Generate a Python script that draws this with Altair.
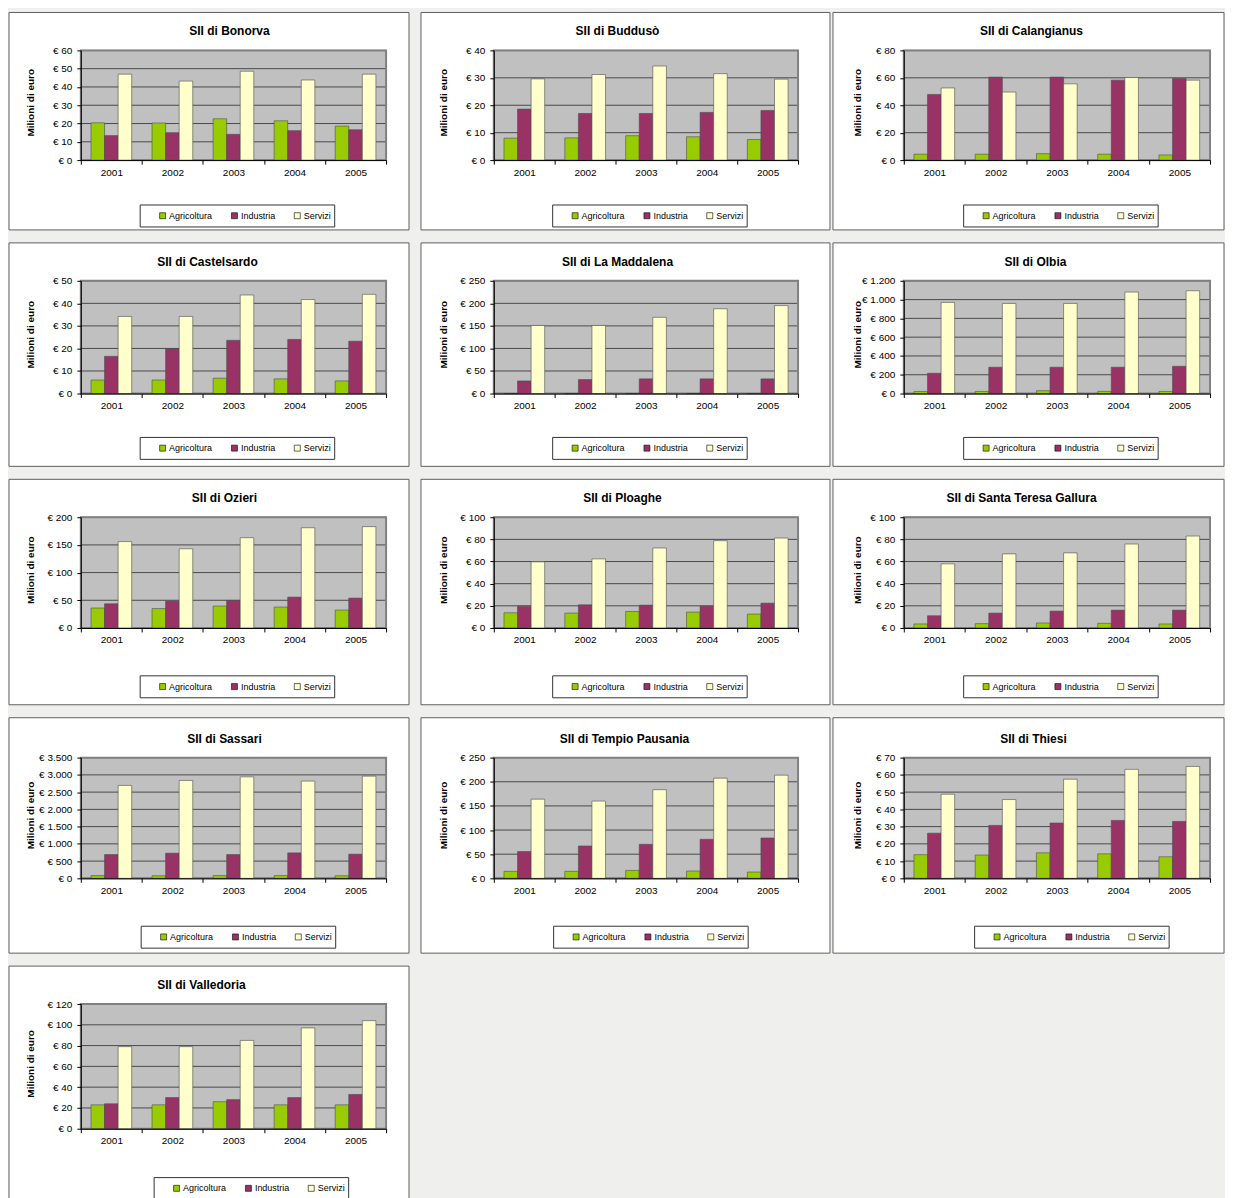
import altair as alt
import pandas as pd

YEARS = ["2001", "2002", "2003", "2004", "2005"]
SECTORS = ["Agricoltura", "Industria", "Servizi"]
SECTOR_COLORS = ["#99cc00", "#993366", "#ffffcc"]
Y_TITLE = "Milioni di euro"
TITLE_PREFIX = "SII di "

# Valori in milioni di euro, 2001-2005
BONORVA_AGRICOLTURA = [20.4, 20.3, 22.6, 21.5, 18.6]
BONORVA_INDUSTRIA = [13.4, 15.0, 14.1, 16.1, 16.6]
BONORVA_SERVIZI = [47.0, 43.2, 48.6, 43.8, 47.0]

BUDDUSO_AGRICOLTURA = [8.0, 8.1, 8.9, 8.5, 7.5]
BUDDUSO_INDUSTRIA = [18.6, 17.0, 17.0, 17.4, 18.1]
BUDDUSO_SERVIZI = [29.6, 31.2, 34.3, 31.5, 29.5]

CALANGIANUS_AGRICOLTURA = [4.3, 4.3, 4.7, 4.3, 3.8]
CALANGIANUS_INDUSTRIA = [47.9, 60.5, 60.5, 58.3, 59.5]
CALANGIANUS_SERVIZI = [52.6, 49.6, 55.6, 60.2, 58.3]

CASTELSARDO_AGRICOLTURA = [6.0, 6.0, 6.8, 6.5, 5.6]
CASTELSARDO_INDUSTRIA = [16.5, 19.8, 23.6, 24.0, 23.2]
CASTELSARDO_SERVIZI = [34.2, 34.2, 43.7, 41.7, 44.0]

LA_MADDALENA_AGRICOLTURA = [0, 0, 0, 0, 0]
LA_MADDALENA_INDUSTRIA = [28, 31, 32.5, 32.5, 32.5]
LA_MADDALENA_SERVIZI = [151, 151, 169, 188, 195]

OLBIA_AGRICOLTURA = [22, 22, 30, 23, 22]
OLBIA_INDUSTRIA = [216, 280, 280, 280, 290]
OLBIA_SERVIZI = [970, 959, 959, 1080, 1094]

OZIERI_AGRICOLTURA = [36, 35, 39.5, 37.7, 32.3]
OZIERI_INDUSTRIA = [43.7, 48.5, 49.7, 55.7, 53.9]
OZIERI_SERVIZI = [156, 143, 163, 181, 183]

PLOAGHE_AGRICOLTURA = [13.7, 13.4, 14.9, 14.3, 12.5]
PLOAGHE_INDUSTRIA = [19.7, 20.9, 20.6, 19.7, 22.4]
PLOAGHE_SERVIZI = [59.7, 62.4, 72.2, 78.8, 81.2]

SANTA_TERESA_AGRICOLTURA = [3.6, 3.9, 4.5, 4.2, 3.6]
SANTA_TERESA_INDUSTRIA = [11.0, 13.4, 15.2, 16.1, 16.1]
SANTA_TERESA_SERVIZI = [57.9, 66.9, 67.8, 75.8, 83.0]

SASSARI_AGRICOLTURA = [80, 75, 80, 80, 75]
SASSARI_INDUSTRIA = [690, 729, 690, 738, 700]
SASSARI_SERVIZI = [2694, 2838, 2943, 2819, 2963]

TEMPIO_AGRICOLTURA = [14.4, 14.4, 16.4, 15.1, 13.0]
TEMPIO_INDUSTRIA = [55.5, 67.0, 70.5, 80.8, 83.6]
TEMPIO_SERVIZI = [164, 160, 183.6, 207.5, 213.7]

THIESI_AGRICOLTURA = [13.7, 13.5, 14.8, 14.2, 12.5]
THIESI_INDUSTRIA = [26.2, 30.7, 32.1, 33.6, 33.0]
THIESI_SERVIZI = [48.8, 45.7, 57.5, 63.2, 64.9]

VALLEDORIA_AGRICOLTURA = [23, 23, 26, 23, 23]
VALLEDORIA_INDUSTRIA = [24, 30, 28, 30, 33]
VALLEDORIA_SERVIZI = [79, 79, 85, 97, 104]

# name -> (agricoltura, industria, servizi, y max, y step)
PANELS = {
    "Bonorva": (BONORVA_AGRICOLTURA, BONORVA_INDUSTRIA, BONORVA_SERVIZI, 60, 10),
    "Buddusò": (BUDDUSO_AGRICOLTURA, BUDDUSO_INDUSTRIA, BUDDUSO_SERVIZI, 40, 10),
    "Calangianus": (CALANGIANUS_AGRICOLTURA, CALANGIANUS_INDUSTRIA, CALANGIANUS_SERVIZI, 80, 20),
    "Castelsardo": (CASTELSARDO_AGRICOLTURA, CASTELSARDO_INDUSTRIA, CASTELSARDO_SERVIZI, 50, 10),
    "La Maddalena": (LA_MADDALENA_AGRICOLTURA, LA_MADDALENA_INDUSTRIA, LA_MADDALENA_SERVIZI, 250, 50),
    "Olbia": (OLBIA_AGRICOLTURA, OLBIA_INDUSTRIA, OLBIA_SERVIZI, 1200, 200),
    "Ozieri": (OZIERI_AGRICOLTURA, OZIERI_INDUSTRIA, OZIERI_SERVIZI, 200, 50),
    "Ploaghe": (PLOAGHE_AGRICOLTURA, PLOAGHE_INDUSTRIA, PLOAGHE_SERVIZI, 100, 20),
    "Santa Teresa Gallura": (SANTA_TERESA_AGRICOLTURA, SANTA_TERESA_INDUSTRIA, SANTA_TERESA_SERVIZI, 100, 20),
    "Sassari": (SASSARI_AGRICOLTURA, SASSARI_INDUSTRIA, SASSARI_SERVIZI, 3500, 500),
    "Tempio Pausania": (TEMPIO_AGRICOLTURA, TEMPIO_INDUSTRIA, TEMPIO_SERVIZI, 250, 50),
    "Thiesi": (THIESI_AGRICOLTURA, THIESI_INDUSTRIA, THIESI_SERVIZI, 70, 10),
    "Valledoria": (VALLEDORIA_AGRICOLTURA, VALLEDORIA_INDUSTRIA, VALLEDORIA_SERVIZI, 120, 20),
}

# ---- layout (pixels) ----
COLS = {  # plot width, box left margin, box right margin, y-title x
    0: dict(W=306, L=72, R=23, YT=-50),
    1: dict(W=305, L=73, R=32, YT=-50),
    2: dict(W=307, L=71, R=14, YT=-46),
}
ROWS = {  # box top margin, plot height, box bottom margin, legend top below plot
    0: dict(T=38, H=110, B=70, LT=45),
    1: dict(T=38, H=113, B=73, LT=44),
    2: dict(T=38, H=111, B=77, LT=48),
    3: dict(T=40, H=121, B=75, LT=48),
    4: dict(T=38, H=125, B=80, LT=49),
}
# name -> (col, row, title centre from box left, legend centre shift)
PLACE = {
    "Bonorva": (0, 0, 221, 4),
    "Buddusò": (1, 0, 197, 4),
    "Calangianus": (2, 0, 199, 4),
    "Castelsardo": (0, 1, 199, 4),
    "La Maddalena": (1, 1, 197, 4),
    "Olbia": (2, 1, 203, 4),
    "Ozieri": (0, 2, 216, 4),
    "Ploaghe": (1, 2, 202, 4),
    "Santa Teresa Gallura": (2, 2, 189, 4),
    "Sassari": (0, 3, 216, 5),
    "Tempio Pausania": (1, 3, 204, 5),
    "Thiesi": (2, 3, 201, 15),
    "Valledoria": (0, 4, 193, 18),
}

FONT = "Liberation Sans"
LEG_W, LEG_H = 195, 22


def y_axis(ticks, YT, H):
    return alt.Axis(values=ticks, grid=False, zindex=1,
                    labelExpr="'€ ' + replace(format(datum.value, ','), ',', '.')",
                    tickSize=4, labelPadding=5, domainColor="black", tickColor="black",
                    labelColor="black", labelFont=FONT, labelFontSize=10,
                    title=Y_TITLE, titleFont=FONT, titleFontSize=10,
                    titleFontWeight="bold", titleColor="black",
                    titleX=YT, titleY=H / 2 - 3, titleAngle=270,
                    titleAlign="center", titleBaseline="middle")


def panel(name):
    agr, ind, serv, ymax, ystep = PANELS[name]
    col, row, title_x, leg_dx = PLACE[name]
    W, L, R, YT = COLS[col]["W"], COLS[col]["L"], COLS[col]["R"], COLS[col]["YT"]
    T, H, B, LT = ROWS[row]["T"], ROWS[row]["H"], ROWS[row]["B"], ROWS[row]["LT"]

    df = pd.DataFrame({
        "anno": YEARS * 3,
        "settore": [s for s in SECTORS for _ in YEARS],
        "valore": list(agr) + list(ind) + list(serv),
    })
    ticks = list(range(0, ymax + 1, ystep))
    yscale = alt.Scale(domain=[0, ymax], nice=False, zero=True)
    one = pd.DataFrame({"k": [0]})

    box = alt.Chart(one).mark_rect(fill="white", stroke="#5f5f5f", strokeWidth=1).encode(
        x=alt.value(-L), x2=alt.value(W + R), y=alt.value(-T), y2=alt.value(H + B))
    plotbg = alt.Chart(one).mark_rect(fill="#c0c0c0").encode(
        x=alt.value(0), x2=alt.value(W), y=alt.value(0), y2=alt.value(H))
    grid = alt.Chart(pd.DataFrame({"valore": ticks})).mark_rule(
        color="#4a4a4a", strokeWidth=1).encode(
        y=alt.Y("valore:Q", scale=yscale, axis=y_axis(ticks, YT, H)))
    border = alt.Chart(one).mark_rect(fillOpacity=0, stroke="#808080", strokeWidth=2).encode(
        x=alt.value(0), x2=alt.value(W), y=alt.value(0), y2=alt.value(H))

    bars = alt.Chart(df).mark_bar(stroke="#4d4d4d", strokeWidth=0.6).encode(
        x=alt.X("anno:N", sort=YEARS,
                scale=alt.Scale(paddingInner=0, paddingOuter=0),
                axis=alt.Axis(title=None, labelAngle=0, tickBand="extent", tickSize=4,
                              labelPadding=3, domainColor="black", tickColor="black",
                              labelColor="black", labelFont=FONT, labelFontSize=10,
                              grid=False, zindex=1)),
        xOffset=alt.XOffset("settore:N", sort=SECTORS,
                            scale=alt.Scale(domain=SECTORS, paddingInner=0, paddingOuter=0.75)),
        y=alt.Y("valore:Q", scale=yscale, axis=y_axis(ticks, YT, H)),
        color=alt.Color("settore:N", sort=SECTORS,
                        scale=alt.Scale(domain=SECTORS, range=SECTOR_COLORS),
                        legend=alt.Legend(orient="none", direction="horizontal", title=None,
                                          legendX=W / 2 + leg_dx - LEG_W / 2 + 18,
                                          legendY=H + LT + 6,
                                          symbolType="square", symbolSize=36,
                                          symbolStrokeColor="black", symbolStrokeWidth=0.6,
                                          labelFont=FONT, labelFontSize=9, labelColor="black",
                                          labelOffset=2, columnPadding=17, padding=0)),
    )

    legbox = alt.Chart(one).mark_rect(fill="white", stroke="#333333", strokeWidth=1).encode(
        x=alt.value(W / 2 + leg_dx - LEG_W / 2), x2=alt.value(W / 2 + leg_dx + LEG_W / 2),
        y=alt.value(H + LT), y2=alt.value(H + LT + LEG_H))

    title = alt.Chart(one).mark_text(font=FONT, fontSize=12, fontWeight="bold", color="black",
                                     align="center", baseline="middle").encode(
        x=alt.value(title_x - L), y=alt.value(-19), text=alt.value(TITLE_PREFIX + name))

    return alt.layer(box, plotbg, grid, border, bars, legbox, title).properties(width=W, height=H)


def indep(c):
    return c.resolve_scale(color="independent", x="independent", y="independent").resolve_legend(
        color="independent")


col1_names = [n for n in PANELS if PLACE[n][0] == 0]
col1 = indep(alt.vconcat(*[panel(n) for n in col1_names], spacing=11))

right_rows = []
for r in range(4):
    names = [n for n in PANELS if PLACE[n][1] == r and PLACE[n][0] > 0]
    names.sort(key=lambda n: PLACE[n][0])
    right_rows.append(indep(alt.hconcat(*[panel(n) for n in names], spacing=1)))
right = indep(alt.vconcat(*right_rows, spacing=11))

chart = indep(alt.hconcat(col1, right, spacing=10)).properties(
    padding={"left": 0, "top": 2, "right": 0, "bottom": 0}
).configure(background="#eff0ee").configure_view(stroke="transparent")

chart.save("out.html", embed_options={"renderer": "svg", "actions": False})
